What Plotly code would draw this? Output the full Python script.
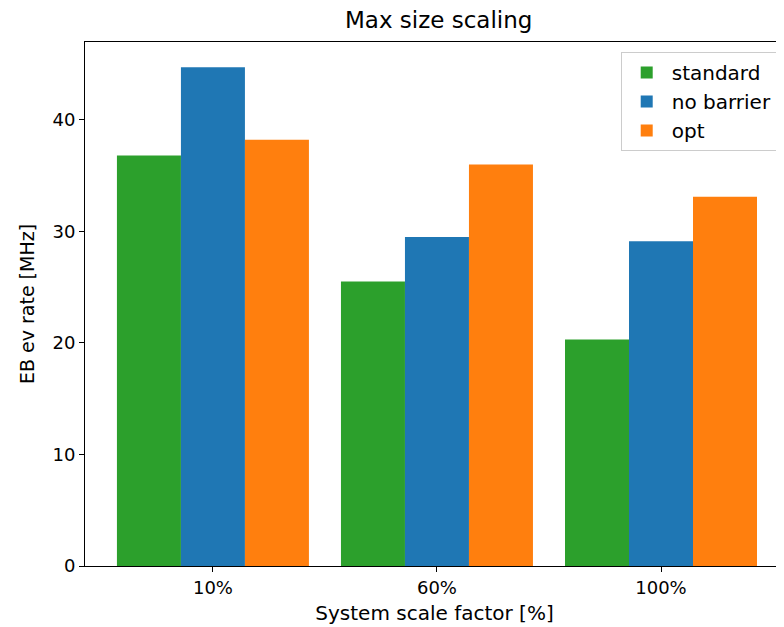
import plotly.graph_objects as go

categories = ["10%", "60%", "100%"]
standard = [36.8, 25.5, 20.3]
no_barrier = [44.7, 29.5, 29.1]
opt = [38.2, 36.0, 33.1]

fig = go.Figure()
fig.add_trace(go.Bar(x=categories, y=standard, name="standard", marker=dict(color="#2ca02c", line=dict(width=0))))
fig.add_trace(go.Bar(x=categories, y=no_barrier, name="no barrier", marker=dict(color="#1f77b4", line=dict(width=0))))
fig.add_trace(go.Bar(x=categories, y=opt, name="opt", marker=dict(color="#ff7f0e", line=dict(width=0))))

fig.update_layout(
    width=776, height=619,
    margin=dict(l=77, r=0, t=34, b=61),
    paper_bgcolor="white", plot_bgcolor="white",
    font=dict(family="DejaVu Sans", size=18, color="black"),
    title=dict(text="Max size scaling", x=0.555, xanchor="center", y=1 - 12 / 619, yanchor="middle",
               font=dict(size=23, color="black")),
    barmode="group", bargap=0.143, bargroupgap=0,
    legend=dict(x=0.991, y=0.981, xanchor="right", yanchor="top",
                bgcolor="white", bordercolor="#cccccc", borderwidth=1,
                font=dict(size=20), traceorder="normal", itemwidth=40),
    xaxis=dict(title=dict(text="System scale factor [%]", font=dict(size=20), standoff=9),
               range=[-0.571, 2.549], showline=True, linecolor="black", linewidth=1, mirror=True,
               ticks="outside", ticklen=5, tickcolor="black", showgrid=False, zeroline=False),
    yaxis=dict(title=dict(text="EB ev rate [MHz]", font=dict(size=19), standoff=12),
               range=[0, 46.97], tickvals=[0, 10, 20, 30, 40],
               showline=True, linecolor="black", linewidth=1, mirror=False,
               ticks="outside", ticklen=5, tickcolor="black", showgrid=False, zeroline=False),
)

fig.write_html("out.html")
